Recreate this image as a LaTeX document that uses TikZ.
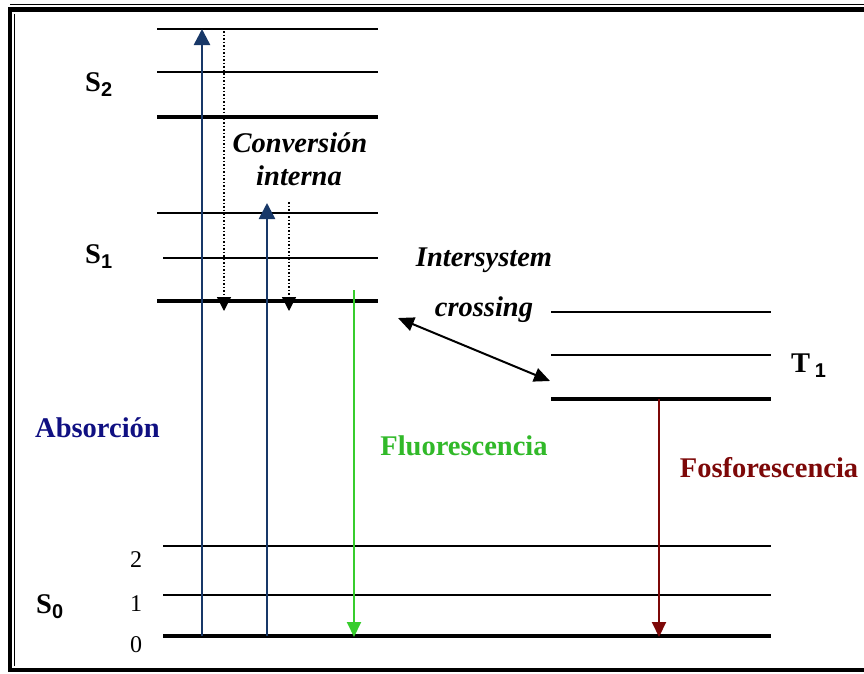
\documentclass[tikz,border=0pt]{standalone}
\usepackage{fontspec}
\setmainfont{Liberation Serif}
\newfontfamily\subfont{Liberation Sans}
\usetikzlibrary{arrows.meta, positioning}
\definecolor{absblue}{RGB}{24,56,104}
\definecolor{absnavy}{RGB}{16,16,130}
\definecolor{fluogreen}{RGB}{55,205,45}
\definecolor{fosred}{RGB}{125,8,8}

\begin{document}
\begin{tikzpicture}[x=1pt, y=-1pt, every node/.style={inner sep=0pt, font=\fontsize{28.5}{30}\selectfont\bfseries},
    level/.style={line width=2.2pt},
    lowlevel/.style={line width=4.2pt},
    absarrow/.style={line width=2.5pt, absblue, -{Triangle[length=16pt,width=16pt]}},
    icarrow/.style={line width=1.5pt, dotted, -{Triangle[length=14pt,width=14pt]}},
    emarrow/.style={line width=1.9pt, -{Triangle[length=15pt,width=14pt]}},
    statelabel/.style={anchor=base west},
    vibnum/.style={anchor=base, font=\fontsize{24}{26}\selectfont}]
    \useasboundingbox (0,0) rectangle (864,673);
    % Frame
    \draw[line width=4.5pt] (10,9.5) rectangle (900,670);
    \draw[line width=1pt] (10,4.5) -- (900,4.5);
    \draw[line width=1pt] (14,14) -- (14,666);
    % Singlet levels S2 and S1
    \foreach \y/\x/\s in {29/157/level, 72/157/level, 117/157/lowlevel, 213/157/level, 258/163/level, 301/157/lowlevel}
        \draw[\s] (\x,\y) -- (378,\y);
    % Triplet levels T1
    \foreach \y/\s in {312/level, 355/level, 399/lowlevel}
        \draw[\s] (551,\y) -- (771,\y);
    % Ground state S0
    \foreach \y/\s in {546/level, 595/level, 636/lowlevel}
        \draw[\s] (163,\y) -- (771,\y);
    % State labels
    \node[statelabel] (sTwo) at (85,91) {S\textsubscript{\subfont 2}};
    \node[statelabel] (sOne) at (85,263) {S\textsubscript{\subfont 1}};
    \node[statelabel] (sZero) at (36,613) {S\textsubscript{\subfont 0}};
    \node[statelabel] (tOne) at (791,372) {T\,\textsubscript{\subfont 1}};
    \node[vibnum] (vTwo) at (136,567) {2};
    \node[vibnum] (vOne) at (136,611) {1};
    \node[vibnum] (vZero) at (136,652) {0};
    % Process labels
    \node[anchor=base, font=\fontsize{28.5}{30}\selectfont\bfseries\itshape] (conv) at (300,152) {Conversión};
    \node[anchor=base, font=\fontsize{28.5}{30}\selectfont\bfseries\itshape] (interna) at (299,185) {interna};
    \node[anchor=base, font=\fontsize{28.5}{30}\selectfont\bfseries\itshape] (inter) at (484,266) {Intersystem};
    \node[anchor=base, font=\fontsize{28.5}{30}\selectfont\bfseries\itshape] (crossing) at (484,316) {crossing};
    \node[anchor=base, text=absnavy] (absorcion) at (97.5,437) {Absorción};
    \node[anchor=base, text=fluogreen!90!black] (fluo) at (464,455) {Fluorescencia};
    \node[anchor=base, text=fosred] (fosfo) at (769,477) {Fosforescencia};
    % Arrow end points
    \coordinate (absA) at (202,636);
    \coordinate (absAtop) at (202,29);
    \coordinate (absB) at (267,636);
    \coordinate (absBtop) at (267,203);
    \coordinate (icA) at (224,31);
    \coordinate (icAend) at (224,311);
    \coordinate (icB) at (289,202);
    \coordinate (icBend) at (289,311);
    \coordinate (fluoTop) at (354,290);
    \coordinate (fluoEnd) at (354,637);
    \coordinate (fosTop) at (659,399);
    \coordinate (fosEnd) at (659,637);
    \coordinate (iscS) at (398,318);
    \coordinate (iscT) at (550,381);
    % Transitions
    \draw[absarrow] (absA) -- (absAtop);
    \draw[absarrow] (absB) -- (absBtop);
    \draw[icarrow] (icA) -- (icAend);
    \draw[icarrow] (icB) -- (icBend);
    \draw[emarrow, fluogreen] (fluoTop) -- (fluoEnd);
    \draw[emarrow, fosred] (fosTop) -- (fosEnd);
    \draw[line width=2pt, {Triangle[length=16pt,width=14pt]}-{Triangle[length=16pt,width=14pt]}] (iscS) -- (iscT);
\end{tikzpicture}
\end{document}
